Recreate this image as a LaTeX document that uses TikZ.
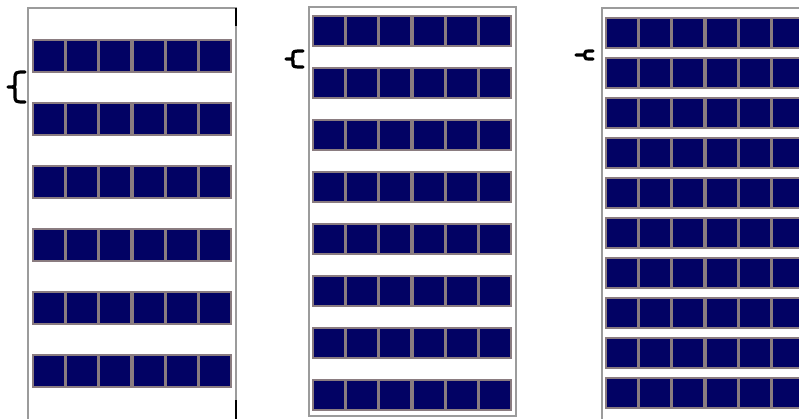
\documentclass[tikz,border=0pt]{standalone}
\definecolor{navy}{RGB}{2,2,100}
\definecolor{cellgap}{RGB}{138,124,128}
\definecolor{framegray}{RGB}{155,155,155}
\newcommand\panelrow[3]{%
  \fill[cellgap] (#1,#2) rectangle ++(200,#3);
  \foreach \i in {0,...,5} \fill[navy] ({#1+2+\i*33.2},{#2+2.2}) rectangle ++(30,{#3-4.4});
}
% args: tip x, stem x, end x, top y, bottom y
\newcommand\drawbrace[5]{%
  \draw[bracestroke] (#3,#4) .. controls (#2,#4) .. ({#2},{#4+(#5-#4)/4})
    -- ({#2},{(#4+#5)/2-(#5-#4)/8}) .. controls ({#2},{(#4+#5)/2}) .. ({#1},{(#4+#5)/2})
    .. controls ({#2},{(#4+#5)/2}) .. ({#2},{(#4+#5)/2+(#5-#4)/8})
    -- ({#2},{#5-(#5-#4)/4}) .. controls (#2,#5) .. (#3,#5);
}
\begin{document}
\begin{tikzpicture}[x=1pt,y=-1pt,
  frameline/.style={draw=framegray,line width=1.2pt},
  bracestroke/.style={draw=black,line width=3.2pt,line cap=round,line join=round}]
\useasboundingbox (0,0) rectangle (799,418);
\fill[white] (0,0) rectangle (799,418);
% frames
\draw[frameline] (28,430) -- (28,8) -- (236,8) -- (236,430);
\draw[black,line width=1.2pt] (236,8) -- (236,26);
\draw[black,line width=1.2pt] (236,400) -- (236,430);
\draw[frameline] (309,416) rectangle (516,7);
\draw[frameline] (602,430) -- (602,8) -- (830,8);
% rows
\foreach \k in {0,...,5} {\panelrow{32}{39+63*\k}{34}}
\foreach \k in {0,...,7} {\panelrow{312}{15+52*\k}{32}}
\foreach \k in {0,...,9} {\panelrow{605}{17+40*\k}{32}}
% braces
\drawbrace{8}{15}{25}{72}{102}
\drawbrace{286}{293}{303}{51}{67}
\drawbrace{576}{585}{593}{51}{59}
\end{tikzpicture}
\end{document}
